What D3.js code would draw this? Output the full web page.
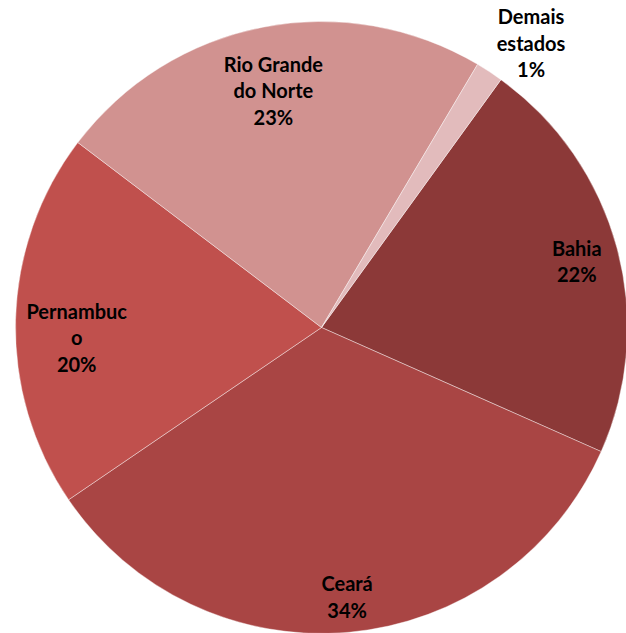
<!DOCTYPE html>
<html>
<head>
<meta charset="utf-8">
<script src="https://cdn.jsdelivr.net/npm/d3@7"></script>
<style>
  body { margin: 0; background: #fff; }
  svg { display: block; }
  .lbl { font-family: Lato, "Open Sans", sans-serif; font-weight: bold; font-size: 20px; fill: #000; }
</style>
</head>
<body>
<div id="chart"></div>
<script>
// data (share of total, %)
var categories = ["Bahia", "Ceará", "Pernambuco", "Rio Grande do Norte", "Demais estados"];
var values = [21.65, 33.8, 19.83, 23.16, 1.45];
// label text as wrapped in the original
var labelLines = [["Bahia"], ["Ceará"], ["Pernambuc", "o"], ["Rio Grande", "do Norte"], ["Demais", "estados"]];
var colors = ["#8c3938", "#a94544", "#c0504d", "#d19290", "#e2bbbc"];

var width = 626, height = 633;
var cx = 321.5, cy = 327.5, radius = 306;
var firstAngle = 35.9 * Math.PI / 180;

// small nudges so labels sit where excel put them
var labelNudge = [[13, 0], [3, 20], [6, 17], [0, 10], [8, 0]];

var svg = d3.select("#chart").append("svg")
    .attr("width", width)
    .attr("height", height);

var g = svg.append("g")
    .attr("transform", "translate(" + cx + "," + cy + ")");

var pie = d3.pie()
    .sort(null)
    .startAngle(firstAngle)
    .endAngle(firstAngle + 2 * Math.PI)
    .value(function(d) { return d; });

var arcs = pie(values);
var total = d3.sum(values);
var pct = d3.format(".0%");

var arc = d3.arc().innerRadius(0).outerRadius(radius);
var labelArc = d3.arc().innerRadius(radius * 0.82).outerRadius(radius * 0.82);
var outerArc = d3.arc().innerRadius(radius * 1.2).outerRadius(radius * 1.2);

g.selectAll("path.slice")
    .data(arcs)
  .enter().append("path")
    .attr("class", "slice")
    .attr("d", arc)
    .attr("fill", function(d, i) { return colors[i]; })
    .attr("stroke", "#ffffff")
    .attr("stroke-opacity", 0.5)
    .attr("stroke-width", 0.8);

var lineH = 26.5;

g.selectAll("text.lbl")
    .data(arcs)
  .enter().append("text")
    .attr("class", "lbl")
    .attr("text-anchor", "middle")
    .each(function(d, i) {
      var small = (d.endAngle - d.startAngle) < 0.2;
      var p = small ? outerArc.centroid(d) : labelArc.centroid(d);
      var x = p[0] + labelNudge[i][0];
      var lines = labelLines[i].concat([pct(values[i] / total)]);
      var top = p[1] + labelNudge[i][1] - (lines.length - 1) * lineH / 2;
      // keep outside labels inside the picture
      top = Math.max(top, -cy + 17);
      var t = d3.select(this);
      lines.forEach(function(s, k) {
        t.append("tspan")
          .attr("x", x)
          .attr("y", top + k * lineH)
          .attr("dy", "0.35em")
          .text(s);
      });
    });
</script>
</body>
</html>
